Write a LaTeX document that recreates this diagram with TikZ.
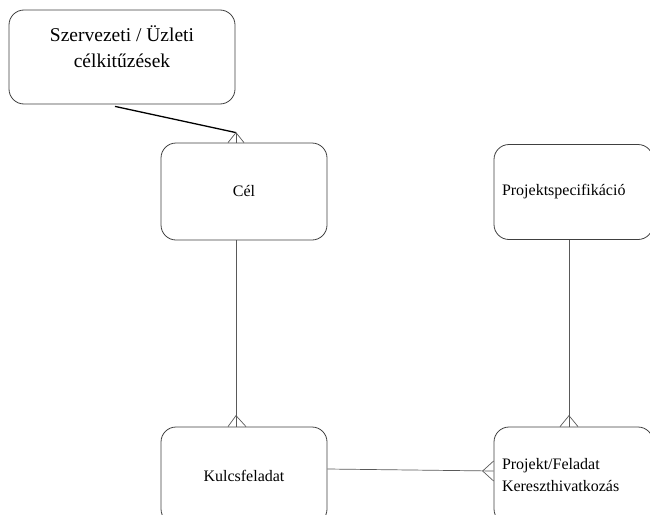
\documentclass[tikz,border=0pt]{standalone}
\usepackage{fontspec}
\setmainfont{Liberation Serif}
\tikzset{
	entity/.style={draw=black!75,line width=0.8pt,rounded corners=15pt,fill=white,inner sep=8pt,
		font=\fontsize{16}{22}\selectfont},
	rel/.style={draw=black!65,line width=0.7pt},
}
\begin{document}
\begin{tikzpicture}[x=1pt,y=-1pt]
		\clip (0,0) rectangle (650,514);
		\draw (122,57) node (szerv)[entity,minimum width=226pt,minimum height=94pt,align=center,
			text depth=20pt,font=\fontsize{19.5}{26}\selectfont]{Szervezeti / Üzleti\\célkitűzések};
		\draw (244,191.5) node (cel)[entity,minimum width=166pt,minimum height=97pt]{Cél};
		\draw (573.5,192) node (spec)[entity,text width=143pt,minimum height=95pt,align=left]{Projektspecifikáció};
		\draw (244,475.5) node (kulcs)[entity,minimum width=166pt,minimum height=97pt]{Kulcsfeladat};
		\draw (573.5,475.5) node (kereszt)[entity,text width=143pt,minimum height=97pt,align=left]{Projekt/Feladat\\Kereszthivatkozás};

		% szervezeti celok -- cel
		\draw[line width=1.3pt] ([xshift=-7pt,yshift=-2pt]szerv.south) -- ([xshift=-8pt,yshift=10pt]cel.north);
		\draw[rel] ([xshift=-16pt]cel.north) -- ++(8,-10) -- ++(8,10);
		\draw[rel] ([xshift=-8pt]cel.north) -- ++(0,-10);

		% cel -- kulcsfeladat
		\draw[rel] ([xshift=-8pt]cel.south) -- ([xshift=-8pt]kulcs.north);
		\draw[rel] ([xshift=-16pt]kulcs.north) -- ++(8,-11) -- ++(10,11);

		% projektspecifikacio -- kereszthivatkozas
		\draw[rel] ([xshift=-4.5pt]spec.south) -- ([xshift=-4.5pt]kereszt.north);
		\draw[rel] ([xshift=-13.5pt]kereszt.north) -- ++(9,-11) -- ++(9,11);

		% kulcsfeladat -- kereszthivatkozas
		\draw[rel] ([yshift=6.5pt]kulcs.east) -- ([yshift=4.5pt]kereszt.west);
		\draw[rel] ([yshift=14.5pt]kereszt.west) -- ++(-11,10) -- ++(11,10);
\end{tikzpicture}
\end{document}
